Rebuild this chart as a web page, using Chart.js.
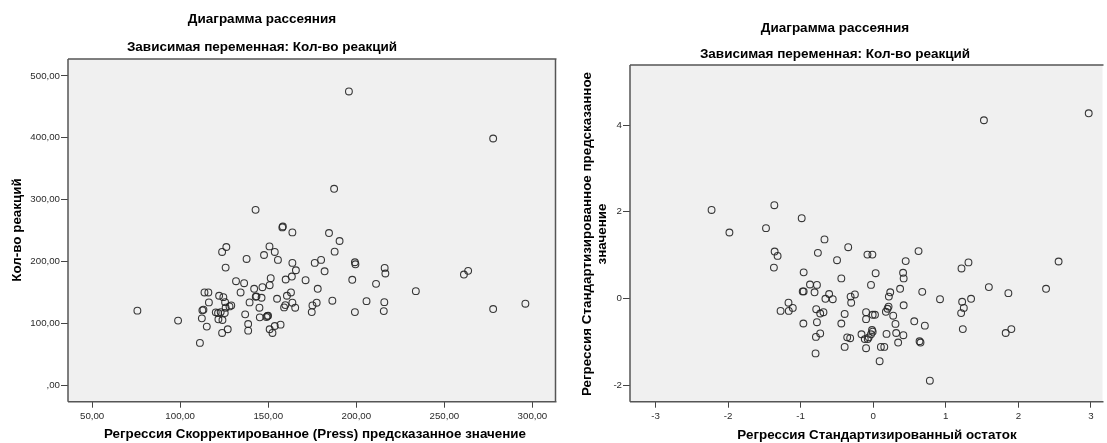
<!DOCTYPE html>
<html><head><meta charset="utf-8">
<script src="https://cdn.jsdelivr.net/npm/chart.js@4.4.1/dist/chart.umd.min.js"></script>
<style>
html,body{margin:0;padding:0;background:#fff;}
#wrap{position:relative;width:1107px;height:443px;overflow:hidden;}
#c1{position:absolute;left:0;top:0;}
#c2{position:absolute;left:560px;top:0;}
</style></head><body>
<div id="wrap">
<canvas id="c1" width="560" height="443"></canvas>
<canvas id="c2" width="547" height="443"></canvas>
</div>
<script>
// ---- Left chart data: Регрессия Скорректированное (Press) предсказанное значение vs Кол-во реакций
const leftX = [75.7,98.8,111.2,112.3,112.6,113.2,113.8,116.0,115.1,116.3,120.2,121.5,121.7,122.1,123.0,123.8,123.8,124.0,124.5,125.3,125.5,125.8,125.8,126.2,127.0,128.0,129.0,131.7,134.3,136.3,136.9,137.7,138.6,138.6,139.4,142.0,142.8,142.9,143.3,145.0,145.2,146.2,146.7,147.6,149.0,149.5,149.9,150.7,150.8,150.8,151.4,152.4,153.7,153.7,155.0,155.5,157.0,158.0,158.3,159.0,159.7,159.9,160.6,162.9,163.4,163.7,163.7,163.7,165.3,165.7,171.2,174.7,175.1,176.4,177.5,178.1,180.0,182.0,184.5,186.4,187.4,187.7,190.5,195.8,197.7,199.2,199.5,199.2,205.8,211.2,215.6,215.9,216.1,216.5,233.8,261.1,263.5,277.7,277.7,296.0];
const leftY = [120.3,104.2,68.1,107.9,120.8,121.9,149.8,149.8,94.5,133.7,117.6,116.4,106.3,144.4,118.0,84.2,215.3,105.2,142.2,116.4,134.1,125.1,190.0,223.3,90.2,127.2,128.8,168.0,149.8,164.7,114.3,204.0,98.7,88.0,133.7,155.7,283.4,142.8,143.5,125.1,109.5,141.2,158.3,210.4,110.0,111.6,112.2,224.3,161.5,90.2,172.8,84.2,215.3,95.5,139.6,202.4,97.7,255.0,256.5,125.6,129.3,170.7,144.4,149.8,175.5,246.9,197.6,133.2,125.1,185.7,169.6,118.0,128.8,197.6,133.2,155.7,202.4,184.0,245.9,136.4,317.5,215.8,233.0,475.0,170.2,198.6,195.3,118.0,135.7,163.7,119.6,134.1,189.5,180.4,151.9,178.7,184.7,398.9,122.9,131.6];
const leftXTicks = [50,100,150,200,250,300];
const leftYTicks = [0,100,200,300,400,500];

// ---- Right chart data: Стандартизированный остаток vs Стандартизированное предсказанное значение
const rightX = [-2.227,-1.981,-1.362,-1.477,-1.358,-1.317,-1.368,-0.985,-0.671,-0.762,-0.958,-0.871,-0.775,-0.971,-0.958,-0.808,-0.658,-0.607,-1.167,-1.108,-1.276,-1.163,-0.785,-0.730,-0.685,-0.962,-0.775,-0.730,-0.789,-0.794,-0.344,-0.498,-0.079,-0.011,0.625,0.448,0.034,0.412,0.420,-0.439,-0.030,0.371,-0.557,-0.311,-0.252,-0.303,0.235,0.216,0.676,0.921,1.217,1.313,1.594,1.863,1.349,1.226,1.249,1.212,1.235,1.826,1.904,2.382,2.555,-0.393,-0.439,-0.098,-0.007,0.025,-0.098,0.175,0.198,0.212,0.276,0.307,0.420,0.566,0.712,-0.016,-0.007,-0.030,-0.161,-0.116,-0.075,-0.061,-0.358,-0.317,-0.393,-0.098,0.106,0.153,0.184,0.317,0.416,0.344,0.639,0.652,0.089,0.781,1.526,2.970];
const rightY = [2.04,1.52,2.15,1.62,1.08,0.98,0.71,1.85,1.36,1.05,0.60,0.32,0.31,0.16,0.16,0.14,-0.01,0.10,-0.10,-0.22,-0.29,-0.29,-0.25,-0.35,-0.32,-0.58,-0.55,-0.81,-0.89,-1.27,1.18,0.88,1.01,1.01,1.09,0.86,0.58,0.59,0.46,0.46,0.31,0.22,-0.02,0.04,0.09,-0.10,0.14,0.04,0.15,-0.02,0.69,0.83,0.26,0.12,-0.01,-0.08,-0.22,-0.34,-0.71,-0.80,-0.71,0.22,0.85,-0.36,-0.58,-0.32,-0.38,-0.38,-0.48,-0.31,-0.24,-0.19,-0.40,-0.59,-0.16,-0.53,-0.63,-0.73,-0.77,-0.83,-0.83,-0.94,-0.94,-0.90,-0.90,-0.92,-1.12,-1.15,-1.12,-1.12,-0.82,-0.80,-0.85,-1.02,-0.99,-1.02,-1.45,-1.90,4.11,4.27];
const rightXTicks = [-3,-2,-1,0,1,2,3];
const rightYTicks = [-2,0,2,4];

// ---- Texts
const chartTitle = 'Диаграмма рассеяния';
const chartSubtitle = 'Зависимая переменная: Кол-во реакций';
const leftXTitle = 'Регрессия Скорректированное (Press) предсказанное значение';
const leftYTitle = 'Кол-во реакций';
const rightXTitle = 'Регрессия Стандартизированный остаток';
const rightYTitle1 = 'Регрессия Стандартизированное предсказанное';
const rightYTitle2 = 'значение';

const FONT = "'Liberation Sans', Arial, sans-serif";

const framePlugin = {
  id: 'frame',
  beforeDraw(chart, args, opts) {
    const {left, top, right, bottom} = chart.chartArea;
    const ctx = chart.ctx;
    ctx.save();
    ctx.fillStyle = '#f0f0f0';
    ctx.fillRect(left, top, right - left, bottom - top);
    ctx.restore();
  },
  afterDraw(chart, args, opts) {
    const {left, top, right, bottom} = chart.chartArea;
    const ctx = chart.ctx;
    ctx.save();
    ctx.strokeStyle = '#555';
    ctx.lineWidth = 1.5;
    ctx.beginPath();
    if (opts.drawRight) {
      ctx.moveTo(right, top); ctx.lineTo(right, bottom);
    }
    ctx.moveTo(left, top); ctx.lineTo(right + 1, top);
    ctx.moveTo(left, top); ctx.lineTo(left, bottom);
    ctx.moveTo(left, bottom); ctx.lineTo(right + 1, bottom);
    ctx.stroke();
    ctx.restore();
  }
};

const textPlugin = {
  id: 'texts',
  afterDraw(chart, args, opts) {
    const ctx = chart.ctx;
    for (const t of opts.items || []) {
      ctx.save();
      ctx.font = t.font;
      ctx.fillStyle = '#000';
      ctx.textAlign = 'center';
      ctx.textBaseline = 'middle';
      ctx.translate(t.x, t.y);
      if (t.rot) ctx.rotate(t.rot);
      ctx.fillText(t.text, 0, 0);
      ctx.restore();
    }
  }
};

function axis(cfg) {
  return {
    type: 'linear',
    min: cfg.min, max: cfg.max,
    afterFit(s) { if (cfg.w !== undefined) s.width = cfg.w; if (cfg.h !== undefined) s.height = cfg.h; },
    afterBuildTicks(s) { s.ticks = cfg.ticks.map(v => ({value: v})); },
    grid: {drawOnChartArea: false, drawTicks: true, tickLength: cfg.tl, color: '#444', lineWidth: 1},
    border: {display: false},
    ticks: {font: {family: FONT, size: 9.7}, color: '#2a2a2a', padding: cfg.pad, maxRotation: 0, autoSkip: false, callback: cfg.fmt}
  };
}

function makeChart(id, xs, ys, o) {
  return new Chart(document.getElementById(id), {
    type: 'scatter',
    data: {datasets: [{
      data: xs.map((x, i) => ({x: x, y: ys[i]})),
      pointStyle: 'circle', pointRadius: 3.4, pointHoverRadius: 3.4, pointBorderWidth: 1.1,
      borderColor: 'rgba(35,35,35,0.9)', backgroundColor: 'rgba(0,0,0,0)'
    }]},
    options: {
      responsive: false, animation: false, events: [],
      layout: {padding: {left: 0, top: o.top, right: o.right, bottom: 0}},
      plugins: {legend: {display: false}, tooltip: {enabled: false},
        frame: {drawRight: o.drawRight}, texts: {items: o.texts}},
      scales: {x: o.x, y: o.y}
    },
    plugins: [framePlugin, textPlugin]
  });
}

const fmtSpss = v => v === 0 ? ',00' : v.toFixed(2).replace('.', ',');
const fmtInt = v => String(v);
const TB = 'bold 13.5px ' + FONT;
const AB = 'bold 13.4px ' + FONT;

makeChart('c1', leftX, leftY, {
  top: 59, right: 1.5, drawRight: true,
  x: axis({min: 36.3, max: 313.1, ticks: leftXTicks, h: 41.3, tl: 6, pad: 3, fmt: fmtSpss}),
  y: axis({min: -27, max: 527.5, ticks: leftYTicks, w: 68, tl: 7, pad: 1, fmt: fmtSpss}),
  texts: [
    {text: chartTitle, x: 262, y: 19, font: TB},
    {text: chartSubtitle, x: 262, y: 47, font: TB},
    {text: leftXTitle, x: 315, y: 434, font: AB},
    {text: leftYTitle, x: 17, y: 230, font: AB, rot: -Math.PI / 2}
  ]
});

makeChart('c2', rightX, rightY, {
  top: 65, right: 0, drawRight: false,
  x: axis({min: -3.351, max: 3.16, ticks: rightXTicks, h: 41.3, tl: 6, pad: 3, fmt: fmtInt}),
  y: axis({min: -2.385, max: 5.385, ticks: rightYTicks, w: 70, tl: 7, pad: 1, fmt: fmtInt}),
  texts: [
    {text: chartTitle, x: 275, y: 28, font: TB},
    {text: chartSubtitle, x: 275, y: 54, font: TB},
    {text: rightXTitle, x: 317, y: 435, font: AB},
    {text: rightYTitle1, x: 27, y: 234, font: AB, rot: -Math.PI / 2},
    {text: rightYTitle2, x: 42, y: 234, font: AB, rot: -Math.PI / 2}
  ]
});
</script>
</body></html>
